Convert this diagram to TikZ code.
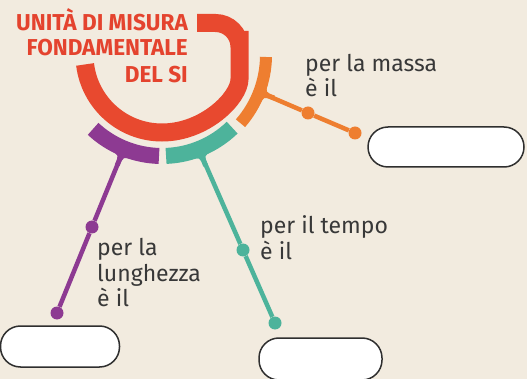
\documentclass[tikz,border=0pt]{standalone}
\usepackage{fontspec}
\setmainfont{Fira Sans}
\newfontfamily\titlefont[FakeStretch=0.98]{Fira Sans}
\usetikzlibrary{calc}
\definecolor{bg}{HTML}{F2EBDF}
\definecolor{redc}{HTML}{E8492F}
\definecolor{titlec}{HTML}{E4432E}
\definecolor{orangec}{HTML}{EE7E30}
\definecolor{tealc}{HTML}{4DB39B}
\definecolor{purplec}{HTML}{8D3A92}
\definecolor{txt}{HTML}{383838}
\definecolor{boxline}{HTML}{2F2F2F}
% flare joining a ring segment to its stem: colour, angle, outer radius
\newcommand{\myflare}[3]{%
  \fill[#1] ($(C)+(#2-6:#3-5)$) -- ($(C)+(#2-6:#3-0.5)$)
    .. controls ($(C)+(#2-1.2:#3)$) .. ($(C)+(#2-1.2:#3+10)$)
    -- ($(C)+(#2+1.2:#3+10)$)
    .. controls ($(C)+(#2+1.2:#3)$) .. ($(C)+(#2+6:#3-0.5)$)
    -- ($(C)+(#2+6:#3-5)$) -- cycle;}
\begin{document}
\begin{tikzpicture}[x=1pt,y=-1pt,
  ttl/.style={anchor=base east, inner sep=0pt, text=titlec,
    font=\titlefont\bfseries\fontsize{23}{26}\selectfont},
  lbl/.style={anchor=base west, inner sep=0pt, text=txt,
    font=\fontsize{23}{25}\selectfont},
  blank/.style={draw=boxline, line width=1.5pt, fill=white,
    rounded corners=20pt, inner sep=0pt},
  dotnode/.style={circle, fill=#1, inner sep=0pt, minimum size=13pt},
  stemline/.style={line width=4.5pt, draw=#1},
  ringseg/.style={line width=16pt, draw=#1},
]
\fill[bg] (0,0) rectangle (527,379);
\useasboundingbox (0,0) rectangle (527,379);
\clip (0,0) rectangle (527,379);

\coordinate (C) at (162,55);

% red main arc
\draw[redc, line width=18pt] (197,23) [rounded corners=24pt] -- (239.5,23)
  -- (239.5,55) [sharp corners] arc[start angle=0, end angle=173, radius=77.5];

% title
\node[ttl] (t1) at (188,30.5) {UNITÀ DI MISURA};
\node[ttl] (t2) at (188,56) {FONDAMENTALE};
\node[ttl] (t3) at (188,83) {DEL SI};

% ring segments
\draw[ringseg=orangec, line width=12pt] ($(C)+(1.1:104)$)
  arc[start angle=1.1, end angle=41, radius=104];
\draw[ringseg=tealc] ($(C)+(46:101)$)
  arc[start angle=46, end angle=87.7, radius=101];
\draw[ringseg=purplec] ($(C)+(91.7:101)$)
  arc[start angle=91.7, end angle=133, radius=101];

% flares
\myflare{orangec}{21}{110}
\myflare{tealc}{68.5}{109}
\myflare{purplec}{112.1}{109}

% orange branch
\coordinate (oB) at ($(C)+(21:109)$);
\node[dotnode=orangec] (oM) at (308,113) {};
\node[dotnode=orangec] (oE) at (355,133) {};
\draw[stemline=orangec] (oB) -- (oM) -- (oE);

% teal branch
\coordinate (tB) at ($(C)+(68.5:108.5)$);
\node[dotnode=tealc] (tM) at (243,250) {};
\node[dotnode=tealc] (tE) at (275,323) {};
\draw[stemline=tealc] (tB) -- (tM) -- (tE);

% purple branch
\coordinate (pB) at ($(C)+(112.1:108.5)$);
\node[dotnode=purplec] (pM) at (92,227) {};
\node[dotnode=purplec] (pE) at (57,313) {};
\draw[stemline=purplec] (pB) -- (pM) -- (pE);

% labels
\node[lbl] (m1) at (305,72) {per la massa};
\node[lbl] (m2) at (305,97) {è il};
\node[lbl] (q1) at (260,234) {per il tempo};
\node[lbl] (q2) at (260,259) {è il};
\node[lbl] (p1) at (97,256) {per la};
\node[lbl] (p2) at (97,281) {lunghezza};
\node[lbl] (p3) at (97,306) {è il};

% blank answer boxes
\node[blank, minimum width=156pt, minimum height=40pt] (bx1) at (446,147) {};
\node[blank, minimum width=119pt, minimum height=41pt] (bx2) at (60,346.5) {};
\node[blank, minimum width=123pt, minimum height=42pt] (bx3) at (320.5,359) {};
\end{tikzpicture}
\end{document}
